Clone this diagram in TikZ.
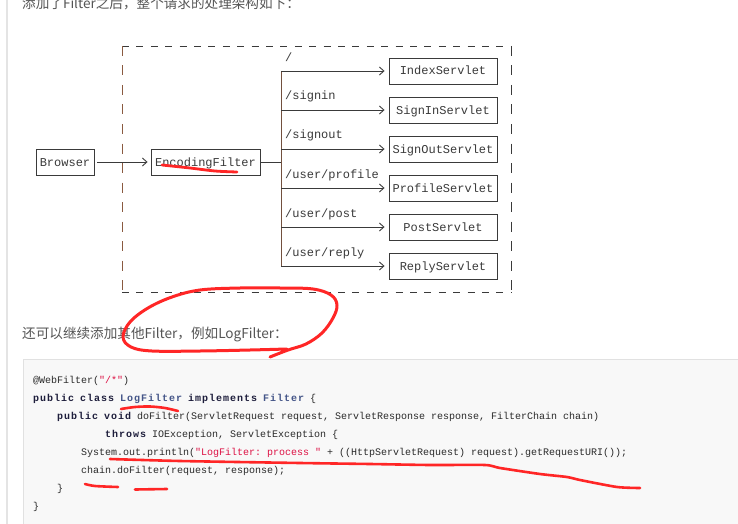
\documentclass[tikz,border=0pt]{standalone}
\usepackage{fontspec}
\usetikzlibrary{arrows.meta}
\setmonofont{Liberation Mono}
\newfontfamily\cjk{Noto Sans CJK SC}
\newfontfamily\codebf{Liberation Mono}[LetterSpace=10]
\definecolor{ink}{HTML}{3A3A3A}
\definecolor{lbrown}{HTML}{8A5A40}
\definecolor{txtgray}{HTML}{555555}
\definecolor{codebg}{HTML}{F8F8F8}
\definecolor{codeline}{HTML}{E1E1E1}
\definecolor{pagebar}{HTML}{E4E4E4}
\definecolor{kw}{HTML}{1E1E3C}
\definecolor{cls}{HTML}{445588}
\definecolor{str}{HTML}{DD1144}
\definecolor{codetxt}{HTML}{2A2A2A}
\definecolor{pen}{RGB}{255,38,38}
\newcommand{\kwd}[1]{{\codebf\bfseries\color{kw}#1}}
\newcommand{\clsn}[1]{{\codebf\bfseries\color{cls}#1}}
\newcommand{\strl}[1]{{\color{str}#1}}
\tikzset{
  box/.style={draw=ink, line width=0.9pt, rectangle, minimum height=26pt, inner sep=3pt,
    font=\ttfamily\fontsize{12pt}{12pt}\selectfont, text=ink, text height=8pt, text depth=0pt},
  servbox/.style={box, minimum width=108pt},
  conn/.style={draw=ink, line width=0.9pt},
  arr/.style={conn, -{Straight Barb[length=4.5pt,width=8pt,line width=0.9pt]}},
  lbl/.style={anchor=base west, inner sep=0pt, font=\ttfamily\fontsize{12pt}{12pt}\selectfont, text=ink},
  codeln/.style={anchor=base west, inner sep=0pt, font=\ttfamily\fontsize{10pt}{10pt}\selectfont, text=codetxt},
  cjktxt/.style={anchor=base west, inner sep=0pt, font=\cjk\fontsize{13.6pt}{14pt}\selectfont, text=txtgray},
  redpen/.style={draw=pen, line width=3pt, line cap=round, line join=round},
}
\begin{document}
\begin{tikzpicture}[x=1pt,y=-1pt]
\useasboundingbox (0,0) rectangle (738,524);
\fill[white] (0,0) rectangle (738,524);
% page bar
\draw[pagebar, line width=1.5pt] (7,-5) -- (7,530);
% heading text (cut at the top edge, as in the reference)
\node[cjktxt] (t1) at (22,8.5) {添加了Filter之后，整个请求的处理架构如下：};
% dashed frame
\draw[ink, line width=0.9pt, dash pattern=on 7pt off 7.4pt] (122,46) -- (511,46);
\draw[ink, line width=0.9pt, dash pattern=on 7pt off 7.4pt] (122,292) -- (511,292);
\draw[ink, line width=0.9pt, dash pattern=on 10pt off 9.5pt] (511,46) -- (511,292);
\draw[lbrown, line width=0.9pt, dash pattern=on 10pt off 9.5pt] (122,46) -- (122,292);
% nodes
\node[box, minimum width=58pt] (browser) at (65,162) {Browser};
\node[box, minimum width=109pt] (enc) at (205.5,162) {EncodingFilter};
\node[servbox] (s1) at (443,71) {IndexServlet};
\node[servbox] (s2) at (443,110) {SignInServlet};
\node[servbox] (s3) at (443,149) {SignOutServlet};
\node[servbox] (s4) at (443,188) {ProfileServlet};
\node[servbox] (s5) at (443,227) {PostServlet};
\node[servbox] (s6) at (443,266) {ReplyServlet};
% bus coordinates
\coordinate (bm) at (281,162);
\coordinate (b1) at (281,71);
\coordinate (b2) at (281,110);
\coordinate (b3) at (281,149);
\coordinate (b4) at (281,188);
\coordinate (b5) at (281,227);
\coordinate (b6) at (281,266);
% connectors
\draw[arr, shorten <=3pt, shorten >=3pt] (browser.east) -- (enc.west);
\draw[conn] (enc.east) -- (bm);
\draw[draw=lbrown!70!ink, line width=1pt] (b1) -- (b6);
\foreach \i in {1,...,6}{
  \draw[arr, shorten >=4pt] (b\i) -- (s\i.west);
}
% route labels
\node[lbl] (l1) at (285,62) {/};
\node[lbl] (l2) at (285,100) {/signin};
\node[lbl] (l3) at (285,139) {/signout};
\node[lbl] (l4) at (285,178) {/user/profile};
\node[lbl] (l5) at (285,217) {/user/post};
\node[lbl] (l6) at (285,256) {/user/reply};
% second paragraph
\node[cjktxt] (t2) at (22,338.5) {还可以继续添加其他Filter，例如LogFilter：};
% code block
\fill[codebg] (23,359.5) rectangle (760,540);
\draw[codeline, line width=1pt] (760,359.5) -- (23,359.5) -- (23,540);
\node[codeln] (c1) at (33,383) {@WebFilter(\strl{"/*"})};
\node[codeln] (c2) at (33,401) {\kwd{public} \kwd{class} \clsn{LogFilter} \kwd{implements} \clsn{Filter} \{};
\node[codeln] (c3) at (57,419) {\kwd{public} \kwd{void} doFilter(ServletRequest request, ServletResponse response, FilterChain chain)};
\node[codeln] (c4) at (105,437) {\kwd{throws} IOException, ServletException \{};
\node[codeln] (c5) at (81,455) {System.out.println(\strl{"LogFilter: process "} + ((HttpServletRequest) request).getRequestURI());};
\node[codeln] (c6) at (81,473) {chain.doFilter(request, response);};
\node[codeln] (c7) at (57,491) {\}};
\node[codeln] (c8) at (33,509) {\}};
% red annotations
\draw[redpen, line width=2.8pt] plot[smooth] coordinates {(162,165) (190,168) (215,171) (237,172)};
\draw[redpen] plot[smooth, tension=0.6] coordinates {(270,357) (288,350) (306,344) (322,333) (333,318) (337,305) (331,295) (313,289) (280,288) (240,288) (200,290) (172,297) (148,308) (130,322) (123,337) (131,347) (152,351) (200,351) (250,350) (287,349)};
\draw[redpen, line width=2.6pt] plot[smooth] coordinates {(121,409) (135,407) (150,406.5) (165,408) (178,411)};
\draw[redpen, line width=2.6pt] plot[smooth, tension=0.4] coordinates {(110,459) (180,461) (300,463) (370,464) (430,465) (485,465) (500,468) (540,474) (567,477) (580,480) (617,487) (640,488)};
\draw[redpen, line width=2.6pt] plot[smooth] coordinates {(85,484) (95,486) (118,487)};
\draw[redpen, line width=2.6pt] (135,489.5) -- (167,489);
\end{tikzpicture}
\end{document}
